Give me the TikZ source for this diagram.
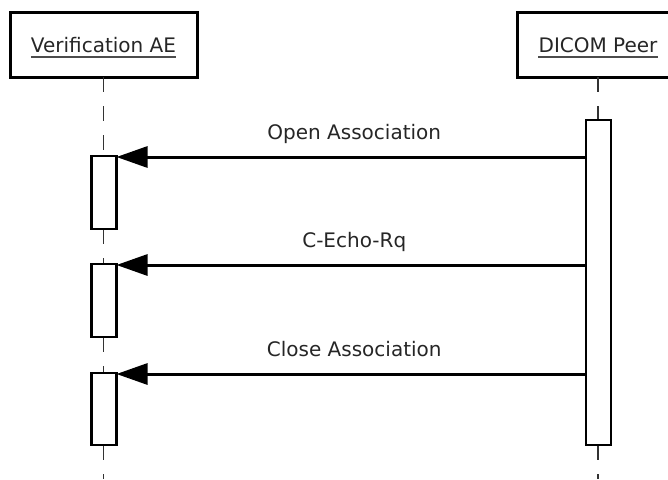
\documentclass[tikz,border=0pt]{standalone}
\usepackage{fontspec}
\setmainfont{DejaVu Sans}
\usetikzlibrary{arrows.meta}
\begin{document}
\begin{tikzpicture}[x=1pt,y=-1pt,
  actor/.style={draw,line width=3pt,minimum height=65pt,inner sep=0pt,outer sep=0pt},
  ttl/.style={inner sep=0pt,anchor=base,font=\fontsize{20}{24}\selectfont,text=black!85},
  lbl/.style={inner sep=0pt,anchor=base,font=\fontsize{20}{24}\selectfont,text=black!85},
  act/.style={draw,fill=white,line width=2.6pt,minimum width=25pt,inner sep=0pt,outer sep=0pt},
  life/.style={line width=1.8pt,black!80,dash pattern=on 15pt off 14pt},
  msg/.style={line width=3pt,-{Triangle[length=31pt 0,width=21pt 0]}},
  uline/.style={line width=1.5pt,black!70}]
\useasboundingbox (0,0) rectangle (668,479);
\clip (0,0) rectangle (668,479);
% participants
\node[actor,minimum width=187pt] (v) at (103.5,44.5) {};
\node[actor,minimum width=162pt] (p) at (598,44.5) {};
\node[ttl] (vt) at (103.5,52) {Verification AE};
\node[ttl] (pt) at (598,52) {DICOM Peer};
\draw[uline] ([yshift=-5pt]vt.base west) -- ([yshift=-5pt]vt.base east);
\draw[uline] ([yshift=-5pt]pt.base west) -- ([yshift=-5pt]pt.base east);
% bottom ends of lifelines
\coordinate (vend) at (103.5,479);
\coordinate (pend) at (598,479);
% activation box centres
\path (104,192.5) coordinate (c1) (104,300.5) coordinate (c2) (104,409) coordinate (c3) (598.5,282.5) coordinate (cp);
% lifelines
\draw[life] (v.south) -- (103.5,156);
\draw[life] (103.5,229) -- (103.5,264);
\draw[life] (103.5,337) -- (103.5,373);
\draw[life] (103.5,445) -- (vend);
\draw[life] (p.south) -- (598,120);
\draw[life] (598,445) -- (pend);
% activations
\node[act,minimum height=73pt] (a1) at (c1) {};
\node[act,minimum height=73pt] (a2) at (c2) {};
\node[act,minimum height=72pt] (a3) at (c3) {};
\node[act,minimum height=325pt] (pa) at (cp) {};
% messages
\draw[msg] ([yshift=-1pt]pa.west |- a1.north) -- node[lbl,pos=0.5,xshift=3pt,yshift=18pt]{Open Association} ([yshift=-1pt]a1.north east);
\draw[msg] ([yshift=-1pt]pa.west |- a2.north) -- node[lbl,pos=0.5,xshift=3pt,yshift=18pt]{C-Echo-Rq} ([yshift=-1pt]a2.north east);
\draw[msg] ([yshift=-1pt]pa.west |- a3.north) -- node[lbl,pos=0.5,xshift=3pt,yshift=18pt]{Close Association} ([yshift=-1pt]a3.north east);
\end{tikzpicture}
\end{document}
